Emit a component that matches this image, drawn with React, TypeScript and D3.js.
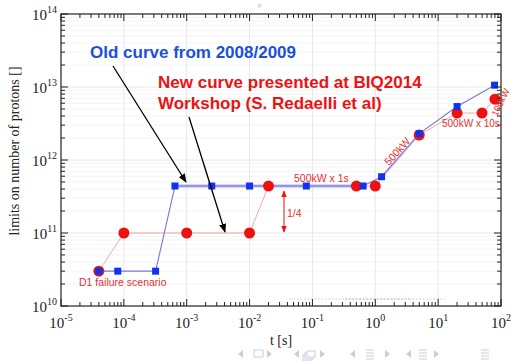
import React, { useEffect, useRef } from 'react';
import * as d3 from 'd3';

// old curve (2008/2009), blue squares
const oldT = [4e-5, 8e-5, 3.2e-4, 6.5e-4, 2.5e-3, 1e-2, 0.08, 0.64, 1.26, 5, 20, 79];
const oldN = [3e10, 3e10, 3e10, 4.4e11, 4.4e11, 4.4e11, 4.4e11, 4.4e11, 5.9e11, 2.3e12, 5.4e12, 1.06e13];

// new curve (BIQ2014), red circles
const newT = [4e-5, 1e-4, 1e-3, 1e-2, 0.02, 0.5, 1, 5, 20, 50, 80];
const newN = [3e10, 1e11, 1e11, 1e11, 4.4e11, 4.4e11, 4.4e11, 2.2e12, 4.4e12, 4.4e12, 6.8e12];

const xExp = [-5, -4, -3, -2, -1, 0, 1, 2];
const yExp = [10, 11, 12, 13, 14];

const W = 515, H = 361;
const L = 61, R = 501, T = 14, B = 306;

export default function App() {
  const ref = useRef<SVGSVGElement>(null);

  useEffect(() => {
    const svg = d3.select(ref.current);
    svg.selectAll('*').remove();

    const x = d3.scaleLog().domain([1e-5, 1e2]).range([L, R]);
    const y = d3.scaleLog().domain([1e10, 1e14]).range([B, T]);

    const serif = '"Liberation Serif", "DejaVu Serif", serif';
    const sans = '"Liberation Sans", Arial, sans-serif';

    const defs = svg.append('defs');
    defs.append('marker').attr('id', 'ah').attr('viewBox', '0 0 10 10')
      .attr('refX', 9).attr('refY', 5).attr('markerWidth', 9).attr('markerHeight', 9)
      .attr('markerUnits', 'userSpaceOnUse').attr('orient', 'auto')
      .append('path').attr('d', 'M0,1 L10,5 L0,9 Z').attr('fill', '#000');
    defs.append('marker').attr('id', 'rh').attr('viewBox', '0 0 10 10')
      .attr('refX', 9).attr('refY', 5).attr('markerWidth', 7).attr('markerHeight', 7)
      .attr('markerUnits', 'userSpaceOnUse').attr('orient', 'auto-start-reverse')
      .append('path').attr('d', 'M0,1 L10,5 L0,9 Z').attr('fill', '#ee1111');

    // minor values
    const minorX: number[] = [];
    xExp.slice(0, -1).forEach(e => { for (let k = 2; k < 10; k++) minorX.push(k * Math.pow(10, e)); });
    const minorY: number[] = [];
    yExp.slice(0, -1).forEach(e => { for (let k = 2; k < 10; k++) minorY.push(k * Math.pow(10, e)); });

    const grid = svg.append('g');
    grid.selectAll('.mg').data(minorY).enter().append('line')
      .attr('x1', L).attr('x2', R).attr('y1', d => y(d)).attr('y2', d => y(d))
      .attr('stroke', '#f4f4f4').attr('stroke-width', 1);
    grid.selectAll('.gx').data(xExp.slice(1, -1)).enter().append('line')
      .attr('x1', d => x(Math.pow(10, d))).attr('x2', d => x(Math.pow(10, d)))
      .attr('y1', T).attr('y2', B).attr('stroke', '#e8e8e8');
    grid.selectAll('.gy').data(yExp.slice(1, -1)).enter().append('line')
      .attr('x1', L).attr('x2', R).attr('y1', d => y(Math.pow(10, d))).attr('y2', d => y(Math.pow(10, d)))
      .attr('stroke', '#e8e8e8');

    // faint dotted remnant near bottom
    svg.append('line').attr('x1', 290).attr('x2', 445).attr('y1', 299).attr('y2', 299)
      .attr('stroke', '#c8c8c8').attr('stroke-dasharray', '1.5,2');
    svg.append('line').attr('x1', 345).attr('x2', 410).attr('y1', 299).attr('y2', 299)
      .attr('stroke', '#f2a0a0').attr('stroke-dasharray', '1.5,2');

    // lines
    const line = d3.line<[number, number]>().x(d => x(d[0])).y(d => y(d[1]));
    const newPts = newT.map((t, i) => [t, newN[i]] as [number, number]);
    const oldPts = oldT.map((t, i) => [t, oldN[i]] as [number, number]);

    svg.append('path').attr('d', line(newPts)).attr('fill', 'none')
      .attr('stroke', '#f3a8a8').attr('stroke-width', 1);
    svg.append('path').attr('d', line(oldPts.slice(3, 8))).attr('fill', 'none')
      .attr('stroke', '#b4b4ee').attr('stroke-width', 3);
    svg.append('path').attr('d', line(oldPts)).attr('fill', 'none')
      .attr('stroke', '#7676d8').attr('stroke-width', 1.1);

    svg.selectAll('.rc').data(newPts).enter().append('circle')
      .attr('cx', d => x(d[0])).attr('cy', d => y(d[1])).attr('r', 5.5)
      .attr('fill', '#ee1111');
    svg.selectAll('.bs').data(oldPts).enter().append('rect')
      .attr('x', d => x(d[0]) - 3.5).attr('y', d => y(d[1]) - 3.5)
      .attr('width', 7).attr('height', 7).attr('fill', '#1133ee');

    // frame and ticks
    const ax = svg.append('g').attr('stroke', '#222').attr('stroke-width', 1);
    ax.append('rect').attr('x', L).attr('y', T).attr('width', R - L).attr('height', B - T)
      .attr('fill', 'none').attr('stroke', '#333').attr('stroke-width', 1.3);
    const majX = xExp.map(e => Math.pow(10, e));
    const majY = yExp.map(e => Math.pow(10, e));
    [[minorX, 4], [majX, 7]].forEach(([vals, len]: any) => {
      ax.selectAll(null).data(vals).enter().append('line')
        .attr('x1', (d: any) => x(d)).attr('x2', (d: any) => x(d)).attr('y1', B).attr('y2', B - len);
      ax.selectAll(null).data(vals).enter().append('line')
        .attr('x1', (d: any) => x(d)).attr('x2', (d: any) => x(d)).attr('y1', T).attr('y2', T + len);
    });
    [[minorY, 4], [majY, 7]].forEach(([vals, len]: any) => {
      ax.selectAll(null).data(vals).enter().append('line')
        .attr('y1', (d: any) => y(d)).attr('y2', (d: any) => y(d)).attr('x1', L).attr('x2', L + len);
      ax.selectAll(null).data(vals).enter().append('line')
        .attr('y1', (d: any) => y(d)).attr('y2', (d: any) => y(d)).attr('x1', R).attr('x2', R - len);
    });

    // tick labels
    const xl = svg.selectAll('.xl').data(xExp).enter().append('text')
      .attr('x', d => x(Math.pow(10, d))).attr('y', 328).attr('text-anchor', 'middle')
      .attr('font-family', serif).attr('font-size', 15).attr('fill', '#222');
    xl.append('tspan').text('10');
    xl.append('tspan').attr('dy', -7).attr('font-size', 10).text(d => String(d));

    const yl = svg.selectAll('.yl').data(yExp).enter().append('text')
      .attr('x', 57).attr('y', d => y(Math.pow(10, d)) + 6).attr('text-anchor', 'end')
      .attr('font-family', serif).attr('font-size', 15).attr('fill', '#222');
    yl.append('tspan').text('10');
    yl.append('tspan').attr('dy', -7).attr('font-size', 10).text(d => String(d));

    svg.append('text').attr('transform', 'translate(19,151) rotate(-90)')
      .attr('text-anchor', 'middle').attr('font-family', serif).attr('font-size', 14)
      .attr('fill', '#222').text('limits on number of protons []');
    svg.append('text').attr('x', 281).attr('y', 345).attr('text-anchor', 'middle')
      .attr('font-family', serif).attr('font-size', 14).attr('fill', '#222').text('t [s]');

    // arrows
    svg.append('line').attr('x1', 113).attr('y1', 66).attr('x2', 186).attr('y2', 182)
      .attr('stroke', '#000').attr('stroke-width', 1.3).attr('marker-end', 'url(#ah)');
    svg.append('line').attr('x1', 189).attr('y1', 117).attr('x2', 225).attr('y2', 232)
      .attr('stroke', '#000').attr('stroke-width', 1.3).attr('marker-end', 'url(#ah)');
    svg.append('line').attr('x1', 284).attr('y1', 191).attr('x2', 284).attr('y2', 232)
      .attr('stroke', '#ee1111').attr('stroke-width', 1)
      .attr('marker-start', 'url(#rh)').attr('marker-end', 'url(#rh)');

    // annotations
    svg.append('text').attr('x', 90).attr('y', 58).attr('font-family', sans)
      .attr('font-weight', 'bold').attr('font-size', 17).attr('fill', '#1a4fe0')
      .text('Old curve from 2008/2009');
    svg.append('text').attr('x', 158).attr('y', 88).attr('font-family', sans)
      .attr('font-weight', 'bold').attr('font-size', 17).attr('fill', '#ee1111')
      .text('New curve presented at BIQ2014');
    svg.append('text').attr('x', 158).attr('y', 109).attr('font-family', sans)
      .attr('font-weight', 'bold').attr('font-size', 17).attr('fill', '#ee1111')
      .text('Workshop (S. Redaelli et al)');

    const small = (s: string, tx: number, ty: number, rot = 0, fs = 10.5) =>
      svg.append('text').attr('transform', `translate(${tx},${ty}) rotate(${rot})`)
        .attr('font-family', sans).attr('font-size', fs).attr('fill', '#e83030').text(s);
    small('500kW x 1s', 294, 182);
    small('1/4', 287, 217);
    small('500kW', 389, 166, -48);
    small('500kW x 10s', 442, 127, 0, 10);
    small('100kW', 497, 117, -64, 9.5);
    small('D1 failure scenario', 79, 286);

    // beamer navigation symbols
    const nav = svg.append('g').attr('fill', '#c9cde0').attr('stroke', '#c9cde0');
    const triL = (cx: number) => nav.append('path').attr('d', `M${cx + 3},${350} L${cx - 2},${354} L${cx + 3},${358} Z`).attr('stroke', 'none');
    const triR = (cx: number) => nav.append('path').attr('d', `M${cx - 3},${350} L${cx + 2},${354} L${cx - 3},${358} Z`).attr('stroke', 'none');
    const bars = (cx: number) => [350, 353, 356, 359].forEach(yy =>
      nav.append('line').attr('x1', cx - 4).attr('x2', cx + 4).attr('y1', yy).attr('y2', yy).attr('stroke-width', 1));
    triL(240); nav.append('rect').attr('x', 254).attr('y', 350).attr('width', 9).attr('height', 7).attr('fill', 'none');
    triR(270);
    triL(296);
    [0, 2, 4].forEach(o => nav.append('rect').attr('x', 303 + o).attr('y', 355 - o).attr('width', 8).attr('height', 6).attr('fill', '#fff'));
    triR(323);
    triL(352); bars(370); triR(388);
    triL(408); bars(423); triR(437);
    bars(485);
    svg.append('text').attr('x', 258).attr('y', 7).attr('font-family', serif).attr('font-size', 7)
      .attr('fill', '#aaa').text('p');
  }, []);

  return (
    <svg ref={ref} width={W} height={H}
      style={{ position: 'absolute', left: 0, top: 0, background: '#fff' }} />
  );
}
